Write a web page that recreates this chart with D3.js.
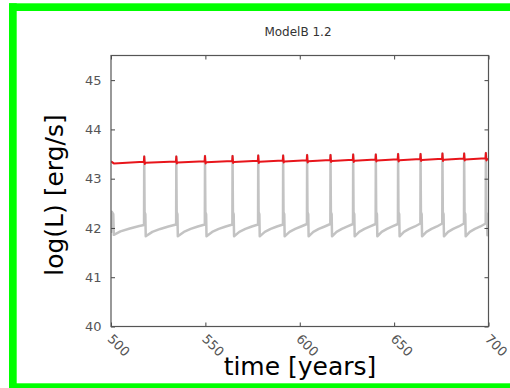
<!DOCTYPE html>
<html><head><meta charset="utf-8">
<script src="https://cdn.jsdelivr.net/npm/d3@7"></script>
<style>body{margin:0;background:#fff}svg{display:block}</style>
</head><body>
<script>
const title = "ModelB 1.2";
const xLabel = "time [years]";
const yLabel = "log(L) [erg/s]";
const xTicks = [500, 550, 600, 650, 700];
const yTicks = [40, 41, 42, 43, 44, 45];
const xDomain = [500, 700];
const yDomain = [40, 45.5];

const grayT = [500.0,500.4,501.2,501.5,505.0,510.0,515.0,517.5,
517.6,517.8,518.2,518.4,521.9,526.1,530.4,534.5,
534.6,534.8,535.2,535.4,538.6,542.2,546.0,549.7,
549.8,550.0,550.4,550.6,553.6,557.1,560.8,564.3,
564.4,564.6,565.0,565.2,568.0,571.2,574.6,577.9,
578.0,578.2,578.6,578.8,581.5,584.6,587.9,591.1,
591.2,591.4,591.8,592.0,594.6,597.6,600.7,603.8,
603.9,604.1,604.5,604.7,607.2,610.1,613.2,616.2,
616.3,616.5,616.9,617.1,619.5,622.3,625.3,628.2,
628.3,628.5,628.9,629.1,631.5,634.3,637.3,640.2,
640.3,640.5,640.9,641.1,643.4,646.2,649.1,652.0,
652.1,652.3,652.7,652.9,655.2,658.0,661.0,663.9,
664.0,664.2,664.6,664.8,667.1,669.8,672.7,675.5,
675.6,675.8,676.2,676.4,678.6,681.3,684.2,687.0,
687.1,687.3,687.7,687.9,690.1,692.8,695.7,698.5,
698.6,698.8,699.2,699.4,700.0];
const grayL = [41.90,42.33,42.28,41.86,41.93,41.99,42.04,42.06,
43.45,42.32,42.28,41.83,41.92,41.98,42.03,42.07,
43.45,42.32,42.28,41.83,41.92,41.98,42.03,42.07,
43.46,42.32,42.28,41.83,41.92,41.98,42.03,42.07,
43.46,42.32,42.28,41.83,41.92,41.98,42.03,42.07,
43.47,42.32,42.28,41.83,41.92,41.98,42.03,42.07,
43.47,42.32,42.28,41.83,41.92,41.98,42.03,42.08,
43.48,42.32,42.28,41.83,41.92,41.98,42.03,42.08,
43.48,42.32,42.28,41.83,41.92,41.98,42.03,42.08,
43.49,42.32,42.28,41.83,41.92,41.98,42.03,42.08,
43.49,42.32,42.28,41.83,41.92,41.98,42.03,42.08,
43.50,42.32,42.28,41.83,41.92,41.98,42.03,42.09,
43.50,42.32,42.28,41.83,41.92,41.98,42.03,42.09,
43.51,42.32,42.28,41.83,41.92,41.98,42.03,42.09,
43.51,42.32,42.28,41.83,41.92,41.98,42.03,42.09,
43.52,42.32,42.28,41.85,41.88];

const redT = [500.0,501.5,517.4,517.6,517.9,518.3,534.4,534.6,534.9,535.3,
549.6,549.8,550.1,550.5,564.2,564.4,564.7,565.1,577.8,578.0,578.3,578.7,
591.0,591.2,591.5,591.9,603.7,603.9,604.2,604.6,616.1,616.3,616.6,617.0,
628.1,628.3,628.6,629.0,640.1,640.3,640.6,641.0,651.9,652.1,652.4,652.8,
663.8,664.0,664.3,664.7,675.4,675.6,675.9,676.3,686.9,687.1,687.4,687.8,
698.4,698.6,698.9,699.3,700.0];
const redL = [43.35,43.31,43.345,43.45,43.30,43.325,43.35,43.45,43.31,43.33,
43.355,43.46,43.31,43.335,43.36,43.46,43.32,43.34,43.365,43.47,43.32,43.345,
43.37,43.47,43.33,43.35,43.375,43.48,43.33,43.355,43.38,43.48,43.34,43.36,
43.385,43.49,43.34,43.365,43.39,43.49,43.35,43.37,43.395,43.50,43.35,43.375,
43.40,43.50,43.36,43.38,43.405,43.51,43.36,43.385,43.41,43.51,43.37,43.39,
43.415,43.52,43.37,43.395,43.40];

const W = 510, H = 388;
const m = {left: 111, top: 55.5, right: 488.5, bottom: 326.5};
const svg = d3.select("body").append("svg").attr("width", W).attr("height", H);

// green border
svg.append("rect").attr("x", 9).attr("y", 3.3).attr("width", 501).attr("height", 7.7).attr("fill", "#00ff00");
svg.append("rect").attr("x", 9).attr("y", 3.3).attr("width", 7.7).attr("height", 385).attr("fill", "#00ff00");
svg.append("rect").attr("x", 9).attr("y", 383.3).attr("width", 501).attr("height", 5).attr("fill", "#00ff00");

const x = d3.scaleLinear().domain(xDomain).range([m.left, m.right]);
const y = d3.scaleLinear().domain(yDomain).range([m.bottom, m.top]);

const font = "DejaVu Sans, sans-serif";

svg.append("text").attr("x", 298).attr("y", 35.5).attr("text-anchor", "middle")
  .attr("font-family", font).attr("font-size", 12).attr("fill", "#333").text(title);

const plot = svg.append("g");
plot.append("clipPath").attr("id", "clip").append("rect")
  .attr("x", m.left).attr("y", m.top).attr("width", m.right - m.left).attr("height", m.bottom - m.top);

const line = d3.line().x(d => x(d[0])).y(d => y(d[1]));
const gray = grayT.map((t, i) => [t, grayL[i]]);
const red = redT.map((t, i) => [t, redL[i]]);
plot.append("path").attr("clip-path", "url(#clip)").attr("d", line(gray))
  .attr("fill", "none").attr("stroke", "#c3c3c3").attr("stroke-width", 2.5).attr("stroke-linejoin", "round");
plot.append("path").attr("clip-path", "url(#clip)").attr("d", line(red))
  .attr("fill", "none").attr("stroke", "#e8151b").attr("stroke-width", 2).attr("stroke-linejoin", "round");

// axes with inward ticks
const axCol = "#444";
const bottomAx = svg.append("g").attr("transform", `translate(0,${m.bottom})`)
  .call(d3.axisBottom(x).tickValues(xTicks).tickSize(-4).tickFormat(""));
const topAx = svg.append("g").attr("transform", `translate(0,${m.top})`)
  .call(d3.axisTop(x).tickValues(xTicks).tickSize(-4).tickFormat(""));
const leftAx = svg.append("g").attr("transform", `translate(${m.left},0)`)
  .call(d3.axisLeft(y).tickValues(yTicks).tickSize(-4).tickFormat(""));
const rightAx = svg.append("g").attr("transform", `translate(${m.right},0)`)
  .call(d3.axisRight(y).tickValues(yTicks).tickSize(-4).tickFormat(""));
[bottomAx, topAx, leftAx, rightAx].forEach(g => {
  g.selectAll("path.domain").remove();
  g.selectAll("line").attr("stroke", axCol);
});
svg.append("rect").attr("x", m.left).attr("y", m.top).attr("width", m.right - m.left)
  .attr("height", m.bottom - m.top).attr("fill", "none").attr("stroke", "#555").attr("stroke-width", 1.2);

// y tick labels
svg.append("g").selectAll("text").data(yTicks).join("text")
  .attr("x", 101.5).attr("y", d => y(d)).attr("dy", "0.37em").attr("text-anchor", "end")
  .attr("font-family", font).attr("font-size", 13).attr("fill", "#555").text(d => d);

// x tick labels rotated
svg.append("g").selectAll("text").data(xTicks).join("text")
  .attr("transform", d => `translate(${x(d) - 1},${m.bottom + 10}) rotate(45)`)
  .attr("text-anchor", "start").attr("dy", "0.35em")
  .attr("font-family", font).attr("font-size", 13).attr("fill", "#555").text(d => d);

// axis titles
svg.append("text").attr("x", 300).attr("y", 375).attr("text-anchor", "middle")
  .attr("font-family", font).attr("font-size", 25).attr("fill", "#000").text(xLabel);
svg.append("text").attr("transform", "translate(63,195) rotate(-90)").attr("text-anchor", "middle")
  .attr("font-family", font).attr("font-size", 25).attr("fill", "#000").text(yLabel);
</script>
</body></html>
